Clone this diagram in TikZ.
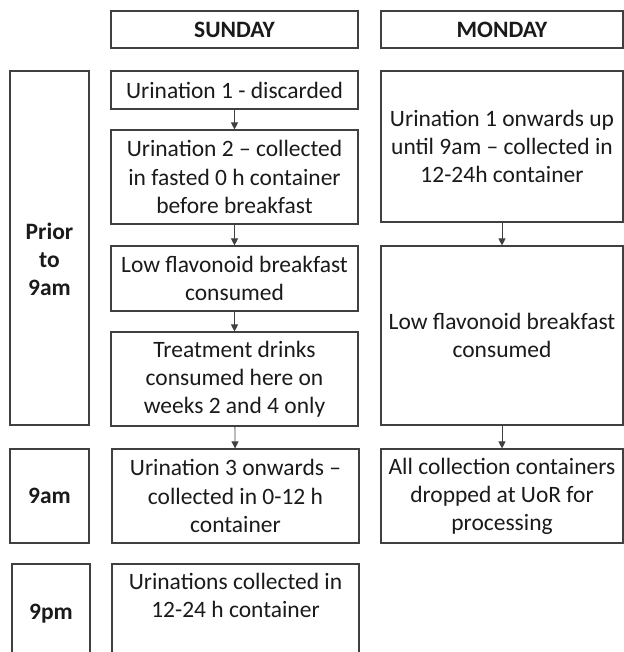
\documentclass[tikz,border=0pt]{standalone}
\usepackage{fontspec}
\setmainfont{Carlito}
\usepackage{xcolor}
\usepackage{tikz}
\usetikzlibrary{arrows.meta, positioning}

\definecolor{edgegrey}{HTML}{404040}
\definecolor{inkgrey}{HTML}{1A1A1A}

\begin{document}
\begin{tikzpicture}[x=0.025cm, y=-0.025cm,
		box/.style={draw=edgegrey, line width=0.8pt, align=center, inner sep=2pt,
			text=inkgrey, font=\fontsize{16.7}{20}\selectfont},
		daybox/.style={box, font=\fontsize{16.7}{20}\selectfont\bfseries},
		flow/.style={draw=edgegrey, line width=0.6pt, -{Triangle[length=5pt, width=5pt]}}]
				\useasboundingbox (0, 0) rectangle (624, 652);

				% column headings
				\node[daybox, minimum width=6.175cm, minimum height=0.925cm] (sun) at (234.5, 29.5) {SUNDAY};
				\node[daybox, minimum width=6.05cm, minimum height=0.925cm] (mon) at (502, 29.5) {MONDAY};

				% time of day
				\node[daybox, minimum width=1.975cm, minimum height=8.85cm] (prior) at (49.5, 248) {\rule{0pt}{28pt}Prior\\to\\9am};
				\node[daybox, minimum width=1.975cm, minimum height=2.35cm] (am) at (49.5, 496) {9am};
				\node[daybox, minimum width=1.95cm, minimum height=2.5cm] (pm) at (51, 614) {9pm};

				% sunday
				\node[box, minimum width=6.175cm, minimum height=0.95cm] (sunA) at (234.5, 90) {Urination 1 - discarded};
				\node[box, minimum width=6.175cm, minimum height=2.35cm] (sunB) at (234.5, 177) {Urination 2 -- collected\\in fasted 0 h container\\before breakfast};
				\node[box, minimum width=6.175cm, minimum height=1.625cm] (sunC) at (234.5, 278.5) {Low flavonoid breakfast\\consumed};
				\node[box, minimum width=6.175cm, minimum height=2.35cm] (sunD) at (234.5, 379) {Treatment drinks\\consumed here on\\weeks 2 and 4 only};
				\node[box, minimum width=6.175cm, minimum height=2.35cm] (sunE) at (235.5, 496) {Urination 3 onwards --\\collected in 0-12 h\\container};
				\node[box, minimum width=6.175cm, minimum height=2.5cm] (sunF) at (235.5, 614) {Urinations collected in\\12-24 h container\\ \strut};

				% monday
				\node[box, minimum width=6.05cm, minimum height=3.775cm] (monA) at (502, 146.5) {Urination 1 onwards up\\until 9am -- collected in\\12-24h container};
				\node[box, minimum width=6.05cm, minimum height=4.475cm] (monB) at (502, 335.5) {Low flavonoid breakfast\\consumed};
				\node[box, minimum width=6.05cm, minimum height=2.35cm] (monC) at (502, 496) {All collection containers\\dropped at UoR for\\processing};

				\draw[flow] (sunA) -- (sunB);
				\draw[flow] (sunB) -- (sunC);
				\draw[flow] (sunC) -- (sunD);
				\draw[flow] (sunD) -- (sunE);

				\draw[flow] (monA) -- (monB);
				\draw[flow] (monB) -- (monC);
			\end{tikzpicture}
\end{document}
